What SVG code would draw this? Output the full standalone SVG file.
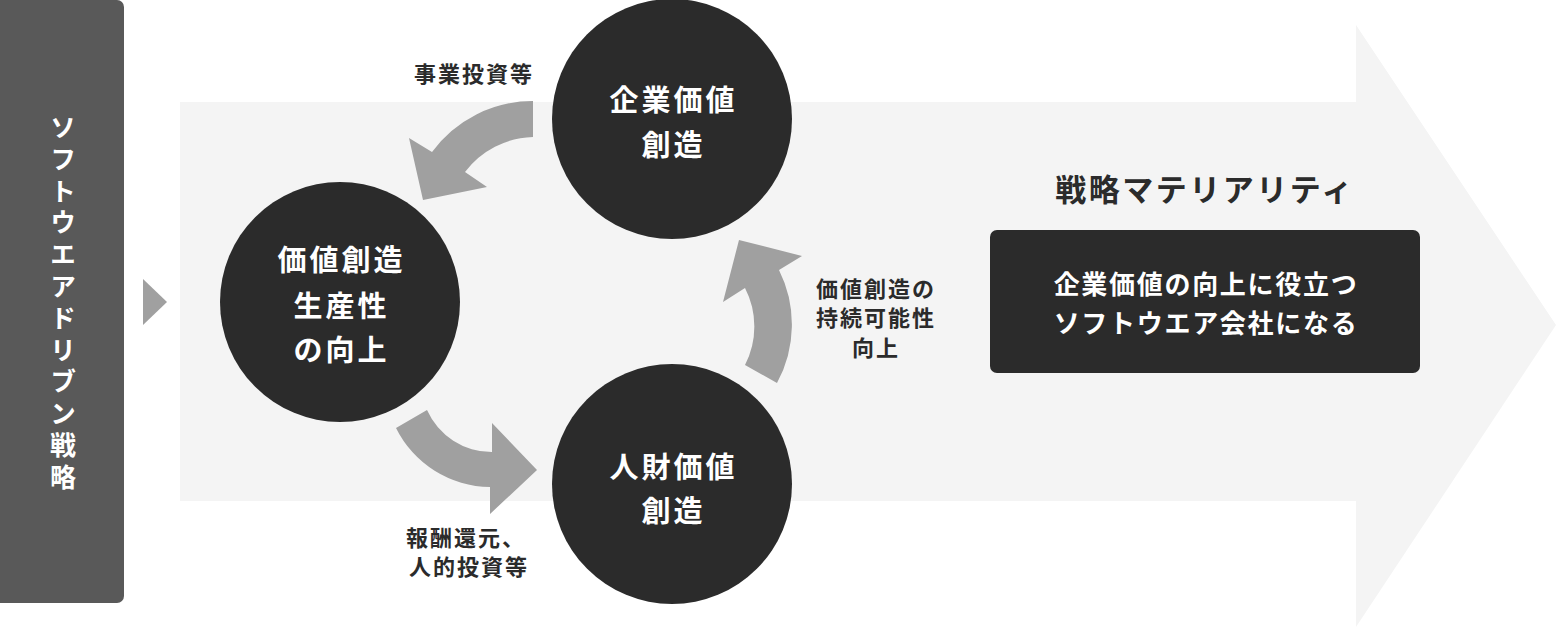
<svg xmlns="http://www.w3.org/2000/svg" width="1556" height="628" viewBox="0 0 1556 628">
<style>
.t{font-family:"Noto Sans CJK JP","Noto Sans",sans-serif;font-weight:700;text-anchor:middle}
.cw{fill:#ffffff;font-size:29px;letter-spacing:3px}
.lb{fill:#2b2b2b;font-size:22px;letter-spacing:2px}
.node{fill:#2b2b2b}
.arr{fill:#a0a0a0}
</style>
<rect width="1556" height="628" fill="#ffffff"/>
<g id="big-arrow">
<polygon points="180,102 1356,102 1356,25 1556,325 1356,627 1356,501 180,501" fill="#f4f4f4"/>
</g>
<g id="strategy-bar">
<rect x="-8" y="0" width="132" height="603" rx="7" fill="#595959"/>
<text class="t" fill="#ffffff" font-size="26" letter-spacing="5.8" writing-mode="vertical-rl" x="63" y="305">ソフトウエアドリブン戦略</text>
</g>
<g id="small-triangle">
<polygon points="143,279 167,302 143,325" fill="#a0a0a0"/>
</g>
<g id="connectors">
<path class="arr" d="M 533 101 A 125 125 0 0 0 432 152 L 409 138 L 423 200 L 487 187 L 465 172 A 88 88 0 0 1 533 137 Z"/>
<path class="arr" d="M 777 383 A 122 122 0 0 0 779 270 L 802 256 L 739 240 L 723 302 L 745 288 A 84 84 0 0 1 745 365 Z"/>
<path class="arr" d="M 427 410 A 71 71 0 0 0 492 452 L 492 423 L 537 470 L 490 514 L 490 487 A 106 106 0 0 1 396 428 Z"/>
</g>
<g id="label-top">
<text class="t lb" x="474" y="82">事業投資等</text>
</g>
<g id="label-right">
<text class="t lb" x="876" y="297">価値創造の</text>
<text class="t lb" x="876" y="326">持続可能性</text>
<text class="t lb" x="876" y="355.5">向上</text>
</g>
<g id="label-bottom">
<text class="t lb" x="466" y="545.5">報酬還元、</text>
<text class="t lb" x="469" y="574.5">人的投資等</text>
</g>
<g id="node-corporate">
<circle class="node" cx="672" cy="119" r="120"/>
<text class="t cw" x="673.5" y="110.5">企業価値</text>
<text class="t cw" x="673.5" y="155.5">創造</text>
</g>
<g id="node-productivity">
<circle class="node" cx="340" cy="302" r="120"/>
<text class="t cw" x="341.5" y="271">価値創造</text>
<text class="t cw" x="341.5" y="317">生産性</text>
<text class="t cw" x="341.5" y="361">の向上</text>
</g>
<g id="node-human">
<circle class="node" cx="672" cy="484" r="120"/>
<text class="t cw" x="673.5" y="478">人財価値</text>
<text class="t cw" x="673.5" y="522">創造</text>
</g>
<g id="materiality">
<text class="t" fill="#2b2b2b" font-size="31" letter-spacing="2.5" x="1205" y="201">戦略マテリアリティ</text>
<rect x="990" y="230" width="430" height="143" rx="7" fill="#2b2b2b"/>
<text class="t" fill="#ffffff" font-size="26" letter-spacing="1.7" x="1206" y="293.5">企業価値の向上に役立つ</text>
<text class="t" fill="#ffffff" font-size="26" letter-spacing="1.7" x="1206" y="332.5">ソフトウエア会社になる</text>
</g>
</svg>
